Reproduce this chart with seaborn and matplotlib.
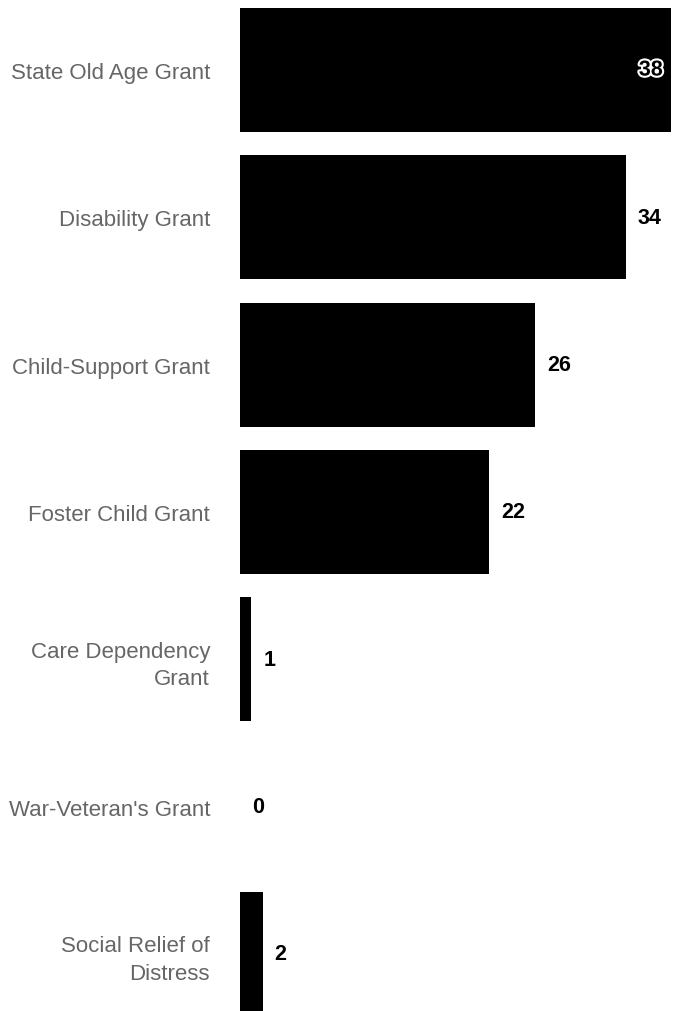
import matplotlib
matplotlib.use("Agg")
import matplotlib.pyplot as plt
import matplotlib.patheffects as pe
import seaborn as sns
import pandas as pd

categories = ["State Old Age Grant", "Disability Grant", "Child-Support Grant",
              "Foster Child Grant", "Care Dependency\nGrant", "War-Veteran's Grant",
              "Social Relief of\nDistress"]
values = [38, 34, 26, 22, 1, 0, 2]

sns.set_theme(style="white")
plt.rcParams['font.family'] = ['Liberation Sans', 'DejaVu Sans']

df = pd.DataFrame({"cat": categories, "val": values})

fig = plt.figure(figsize=(6.8, 10.12), dpi=100)
ax = fig.add_axes([240/680, 0, 440/680, 1])
sns.barplot(data=df, x="val", y="cat", color="black", saturation=1, width=0.842, ax=ax,
            orient="h")
for p in ax.patches:
    p.set_edgecolor("none")

ax.set_xlim(0, 38.8)
ax.set_ylim(6.388, -0.482)
ax.set_xlabel("")
ax.set_ylabel("")
ax.set_xticks([])
ax.tick_params(axis="y", length=0, pad=21.6, labelsize=16, labelcolor="#666666")
for t in ax.get_yticklabels():
    t.set_linespacing(1.4)
for s in ax.spines.values():
    s.set_visible(False)

vmax = max(values)
for i, v in enumerate(values):
    if v == vmax:
        ax.annotate(str(v), (v, i), xytext=(-6, 0), textcoords="offset points",
                    ha="right", va="center", fontsize=15.5, fontweight="bold", color="black",
                    path_effects=[pe.withStroke(linewidth=3, foreground="white")])
    else:
        ax.annotate(str(v), (v, i), xytext=(8.6, 0), textcoords="offset points",
                    ha="left", va="center", fontsize=15.5, fontweight="bold", color="black")

fig.savefig("out.png", dpi=100)
